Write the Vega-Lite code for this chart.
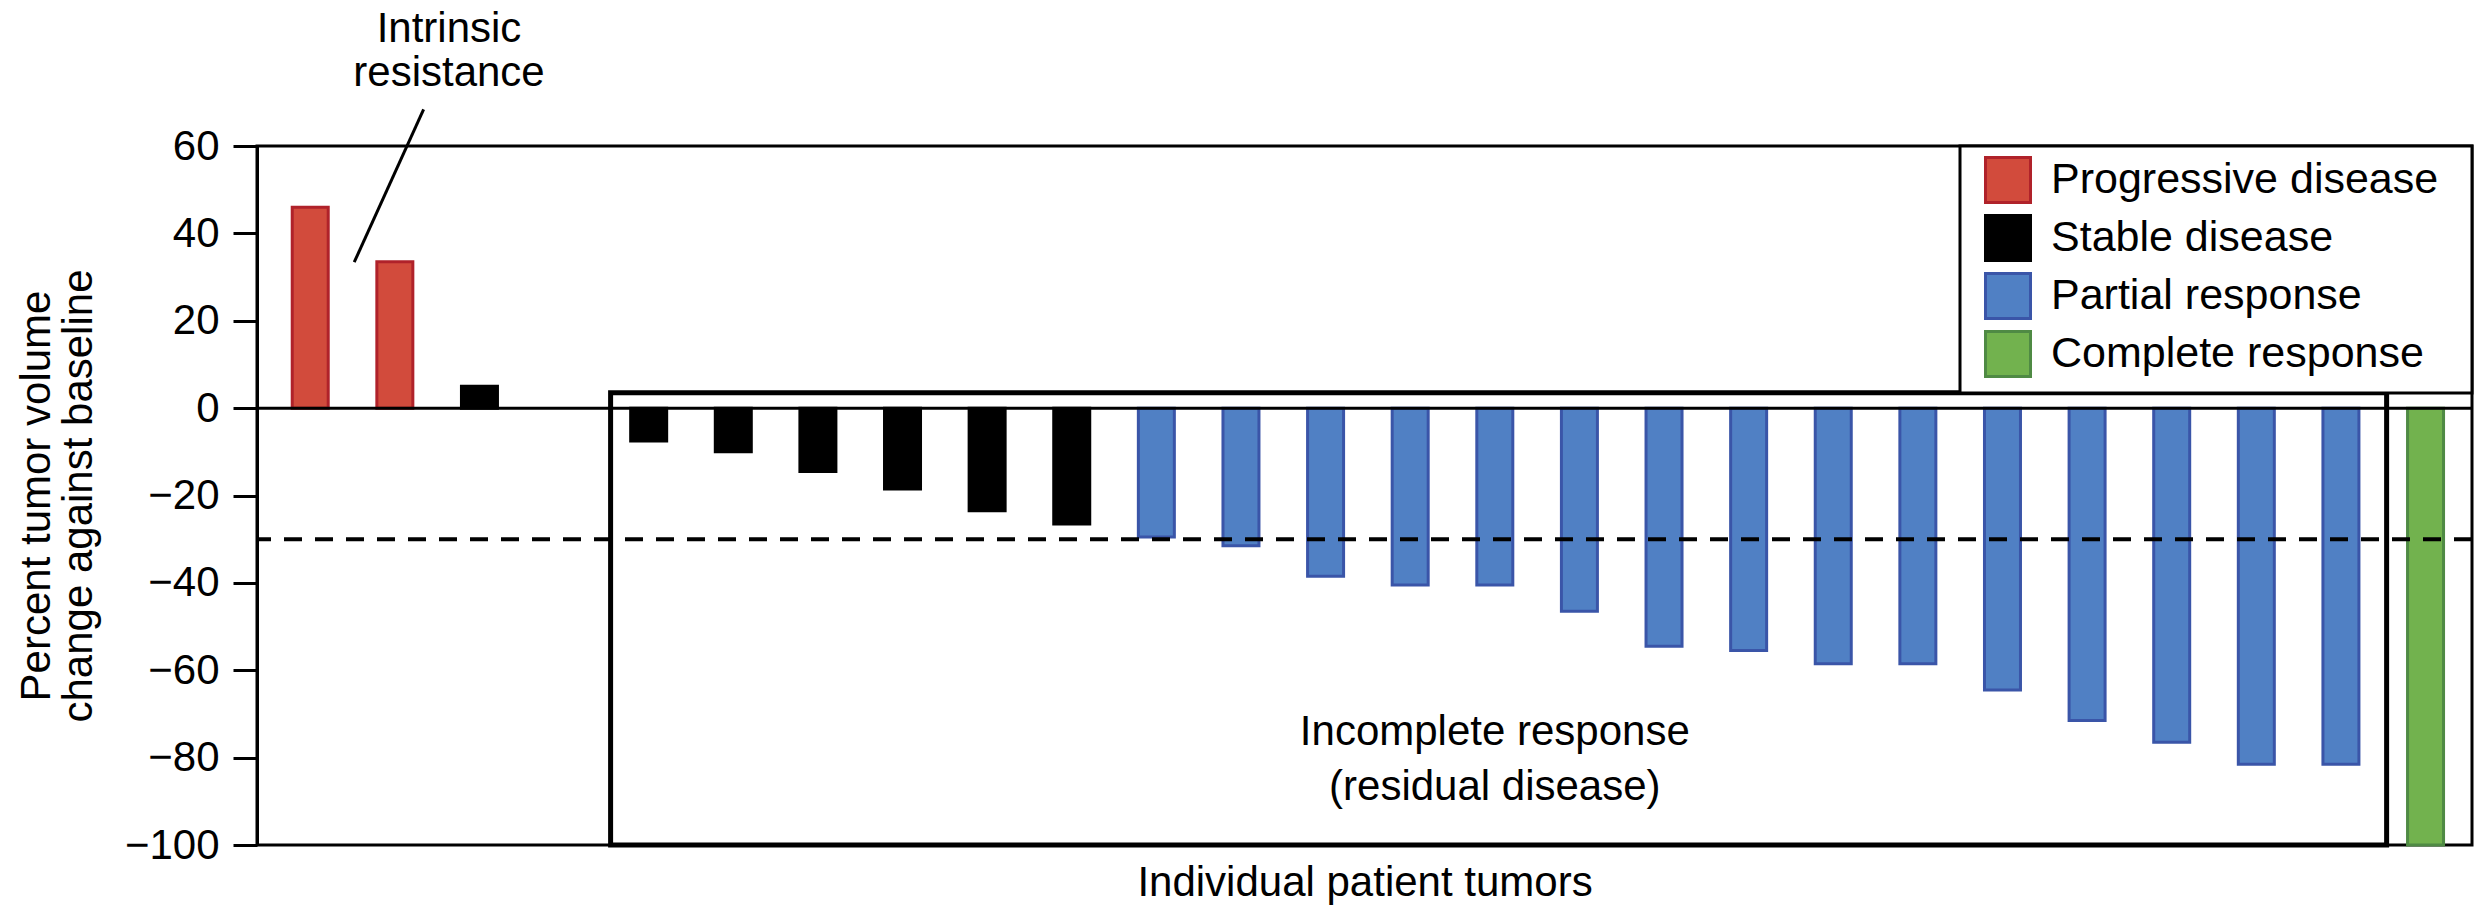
{
  "$schema": "https://vega.github.io/schema/vega-lite/v6.json",
  "width": 2215,
  "height": 699,
  "autosize": {"type": "none"},
  "padding": {"left": 257, "top": 146, "right": 18, "bottom": 65},
  "config": {
    "font": "Liberation Sans",
    "view": {"stroke": "#000000", "strokeWidth": 3},
    "axis": {"grid": false},
    "legend": {
      "orient": "top-right",
      "offset": 0,
      "fillColor": "#ffffff",
      "strokeColor": "#000000",
      "strokeWidth": 3,
      "padding": 10,
      "symbolType": "square",
      "symbolSize": 2025,
      "symbolStrokeWidth": 3,
      "symbolOffset": 14,
      "labelFontSize": 43,
      "labelColor": "#000000",
      "labelOffset": 19,
      "labelLimit": 800,
      "rowPadding": 0,
      "titleOrient": "right",
      "titleFontSize": 50,
      "titlePadding": 24
    }
  },
  "data": {
    "values": [
      {"slot": 0, "value": 46, "status": "Progressive disease"},
      {"slot": 1, "value": 33.5, "status": "Progressive disease"},
      {"slot": 2, "value": 5, "status": "Stable disease"},
      {"slot": 4, "value": -7.5, "status": "Stable disease"},
      {"slot": 5, "value": -10, "status": "Stable disease"},
      {"slot": 6, "value": -14.5, "status": "Stable disease"},
      {"slot": 7, "value": -18.5, "status": "Stable disease"},
      {"slot": 8, "value": -23.5, "status": "Stable disease"},
      {"slot": 9, "value": -26.5, "status": "Stable disease"},
      {"slot": 10, "value": -29.5, "status": "Partial response"},
      {"slot": 11, "value": -31.5, "status": "Partial response"},
      {"slot": 12, "value": -38.5, "status": "Partial response"},
      {"slot": 13, "value": -40.5, "status": "Partial response"},
      {"slot": 14, "value": -40.5, "status": "Partial response"},
      {"slot": 15, "value": -46.5, "status": "Partial response"},
      {"slot": 16, "value": -54.5, "status": "Partial response"},
      {"slot": 17, "value": -55.5, "status": "Partial response"},
      {"slot": 18, "value": -58.5, "status": "Partial response"},
      {"slot": 19, "value": -58.5, "status": "Partial response"},
      {"slot": 20, "value": -64.5, "status": "Partial response"},
      {"slot": 21, "value": -71.5, "status": "Partial response"},
      {"slot": 22, "value": -76.5, "status": "Partial response"},
      {"slot": 23, "value": -81.5, "status": "Partial response"},
      {"slot": 24, "value": -81.5, "status": "Partial response"},
      {"slot": 25, "value": -100, "status": "Complete response"}
    ]
  },
  "layer": [
    {
      "mark": {"type": "bar", "width": 36, "strokeWidth": 3},
      "encoding": {
        "x": {
          "field": "slot",
          "type": "quantitative",
          "scale": {"domain": [-0.57, 25.49], "nice": false, "zero": false},
          "axis": {"title": "Individual patient tumors", "labels": false, "ticks": false, "domain": false, "titleFontSize": 42, "titleFontWeight": "normal", "titleColor": "#000000", "titlePadding": 17}
        },
        "y": {
          "field": "value",
          "type": "quantitative",
          "scale": {"domain": [-100, 60], "nice": false},
          "axis": {
            "title": ["Percent tumor volume", "change against baseline"],
            "values": [-100, -80, -60, -40, -20, 0, 20, 40, 60],
            "domain": true,
            "domainColor": "#000000",
            "domainWidth": 3,
            "tickColor": "#000000",
            "tickWidth": 3,
            "tickSize": 24,
            "labelFontSize": 42,
            "labelColor": "#000000",
            "labelPadding": 14,
            "titleFontSize": 42,
            "titleFontWeight": "normal",
            "titleColor": "#000000",
            "titlePadding": 24,
            "titleLineHeight": 42
          }
        },
        "color": {
          "field": "status",
          "type": "nominal",
          "scale": {
            "domain": ["Progressive disease", "Stable disease", "Partial response", "Complete response"],
            "range": ["#D24B3C", "#000000", "#5080C4", "#72B24E"]
          },
          "legend": {"title": "\u00a0"}
        },
        "stroke": {
          "field": "status",
          "type": "nominal",
          "scale": {
            "domain": ["Progressive disease", "Stable disease", "Partial response", "Complete response"],
            "range": ["#B0222A", "#000000", "#3A55A8", "#4F8A44"]
          },
          "legend": {"title": "\u00a0"}
        }
      }
    },
    {
      "data": {"values": [{}]},
      "mark": {"type": "rule", "color": "#000000", "strokeWidth": 3},
      "encoding": {"y": {"datum": 0}}
    },
    {
      "data": {"values": [{}]},
      "mark": {"type": "rule", "color": "#000000", "strokeWidth": 4, "strokeDash": [18, 13]},
      "encoding": {"y": {"datum": -30}}
    },
    {
      "data": {"values": [{}]},
      "mark": {"type": "rect", "fill": null, "fillOpacity": 0, "stroke": "#000000", "strokeWidth": 5},
      "encoding": {
        "x": {"datum": 3.55},
        "x2": {"datum": 24.54},
        "y": {"datum": 3.5},
        "y2": {"datum": -100}
      }
    },
    {
      "data": {"values": [{}]},
      "mark": {"type": "rule", "color": "#000000", "strokeWidth": 3},
      "encoding": {
        "x": {"datum": 1.34},
        "y": {"datum": 68.4},
        "x2": {"datum": 0.52},
        "y2": {"datum": 33.4}
      }
    },
    {
      "data": {"values": [{}]},
      "mark": {"type": "text", "fontSize": 42, "align": "center", "baseline": "middle", "color": "#000000"},
      "encoding": {"x": {"datum": 1.64}, "y": {"datum": 86.7}, "text": {"value": "Intrinsic"}}
    },
    {
      "data": {"values": [{}]},
      "mark": {"type": "text", "fontSize": 42, "align": "center", "baseline": "middle", "color": "#000000"},
      "encoding": {"x": {"datum": 1.64}, "y": {"datum": 76.8}, "text": {"value": "resistance"}}
    },
    {
      "data": {"values": [{}]},
      "mark": {"type": "text", "fontSize": 42, "align": "center", "baseline": "middle", "color": "#000000"},
      "encoding": {"x": {"datum": 14.0}, "y": {"datum": -74.1}, "text": {"value": "Incomplete response"}}
    },
    {
      "data": {"values": [{}]},
      "mark": {"type": "text", "fontSize": 42, "align": "center", "baseline": "middle", "color": "#000000"},
      "encoding": {"x": {"datum": 14.0}, "y": {"datum": -86.8}, "text": {"value": "(residual disease)"}}
    }
  ]
}
